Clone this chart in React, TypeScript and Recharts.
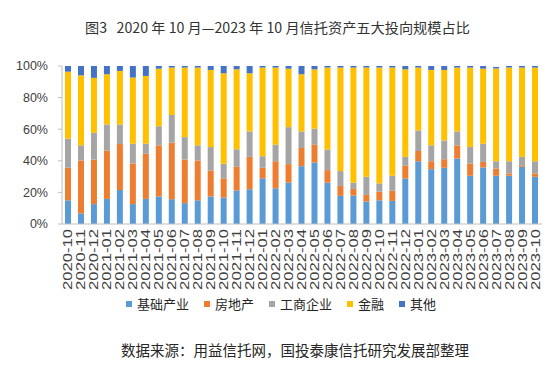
import { Bar, BarChart, XAxis, YAxis } from "recharts";

const months = [
  "2020-10", "2020-11", "2020-12", "2021-01", "2021-02", "2021-03", "2021-04", "2021-05",
  "2021-06", "2021-07", "2021-08", "2021-09", "2021-10", "2021-11", "2021-12", "2022-01",
  "2022-02", "2022-03", "2022-04", "2022-05", "2022-06", "2022-07", "2022-08", "2022-09",
  "2022-10", "2022-11", "2022-12", "2023-01", "2023-02", "2023-03", "2023-04", "2023-05",
  "2023-06", "2023-07", "2023-08", "2023-09", "2023-10",
];

// shares in %
const infra = [
  15, 6.7, 12.6, 15.9, 21.5, 12.6, 15.9, 17.4, 15.7, 13.2, 15, 17.4, 16.7, 21.3, 22, 28.9,
  22.6, 26.2, 36.6, 38.9, 26.2, 17.8, 18, 14.2, 15, 14.6, 28.7, 39.7, 34.7, 35.6, 41.4, 30.5,
  35.8, 30.5, 30.5, 36.2, 29.9,
];
const realEstate = [
  20.6, 33.5, 28.2, 30.5, 29.1, 25.7, 28.5, 32.4, 35.8, 27.6, 25.2, 16.5, 12.2, 14.9, 20.5, 6.7,
  17.1, 11.7, 11.5, 11.3, 7.9, 6.3, 4.2, 4.2, 5.5, 6.5, 8.1, 6.5, 5, 5.4, 8.4, 7.8,
  3.5, 4.6, 1.5, 1, 2.1,
];
const business = [
  18.4, 9.6, 16.9, 16.6, 12.4, 12.5, 6.4, 12.1, 17.5, 14.2, 9.6, 14.8, 9.2, 11.1, 16.1, 7.3,
  10.5, 23.4, 10.5, 10.1, 13, 9.4, 4, 11.5, 5.2, 9.4, 5.7, 13, 10.1, 11.9, 8.8, 10.4,
  11.5, 4.6, 7.7, 5.3, 7.7,
];
const finance = [
  42.4, 44.3, 34.8, 31.8, 33.9, 41.9, 42.9, 36.4, 30, 44, 49.2, 48.8, 57.3, 50.6, 36.8, 56.1,
  48.8, 37, 36.2, 37.6, 51.9, 65.5, 72.8, 69.1, 73.3, 68.5, 55.4, 39.8, 47.7, 44.6, 40.4, 50.3,
  47.5, 58.7, 59.3, 56.5, 59.3,
];
const other = [
  3.6, 5.9, 7.5, 5.2, 3.1, 7.3, 6.3, 1.7, 1, 1, 1, 2.5, 4.6, 2.1, 4.6, 1,
  1, 1.7, 5.2, 2.1, 1, 1, 1, 1, 1, 1, 2.1, 1, 2.5, 2.5, 1, 1,
  1.7, 1, 1, 1, 1,
];

const yTicks = [0, 20, 40, 60, 80, 100];

const series = [
  { key: "infra", name: "基础产业", color: "#5B9BD5" },
  { key: "realEstate", name: "房地产", color: "#ED7D31" },
  { key: "business", name: "工商企业", color: "#A5A5A5" },
  { key: "finance", name: "金融", color: "#FFC000" },
  { key: "other", name: "其他", color: "#4472C4" },
];

const data = months.map((month, i) => ({
  month,
  infra: infra[i],
  realEstate: realEstate[i],
  business: business[i],
  finance: finance[i],
  other: other[i],
}));

const boundaryTicks = months.map((_, i) => i).concat(months.length);

const FONT = '"Noto Sans CJK SC", "Noto Sans", sans-serif';
const AXIS_FONT = '"Liberation Sans", Arial, sans-serif';

function MonthTick({ x, y, payload }: any) {
  const ax = x + 4;
  const ay = y + 5;
  return (
    <text
      x={ax}
      y={ay}
      transform={`rotate(-90 ${ax} ${ay})`}
      textAnchor="end"
      fontSize={12}
      fontFamily={AXIS_FONT}
      fill="#404040"
      textLength={61}
      lengthAdjust="spacingAndGlyphs"
    >
      {payload.value}
    </text>
  );
}

export default function App() {
  return (
    <div
      style={{
        position: "absolute",
        left: 0,
        top: 0,
        width: 556,
        height: 385,
        background: "#fff",
        fontFamily: FONT,
        color: "#262626",
      }}
    >
      <div
        style={{
          position: "absolute",
          left: 85,
          top: 17,
          fontSize: 14.2,
          whiteSpace: "pre",
          lineHeight: "20px",
          color: "#333",
        }}
      >
        图3   2020 年 10 月—2023 年 10 月信托资产五大投向规模占比
      </div>

      <BarChart
        width={556}
        height={385}
        data={data}
        barSize={6}
        margin={{ top: 66, right: 14, bottom: 91, left: 0 }}
        style={{ position: "absolute", left: 0, top: 0 }}
      >
        <XAxis
          xAxisId="edges"
          type="number"
          dataKey="edge"
          domain={[0, months.length]}
          allowDataOverflow
          ticks={boundaryTicks}
          tick={() => <g />}
          tickSize={4}
          tickLine={{ stroke: "#BFBFBF" }}
          axisLine={false}
          height={0}
        />
        <XAxis
          dataKey="month"
          interval={0}
          height={70}
          tickLine={false}
          tickSize={0}
          tickMargin={0}
          axisLine={{ stroke: "#BFBFBF" }}
          tick={<MonthTick />}
        />
        <YAxis
          domain={[0, 100]}
          ticks={yTicks}
          width={62}
          tickSize={4}
          tickMargin={10}
          tickFormatter={(v: number) => `${v}%`}
          tick={{ fill: "#404040", fontSize: 12.5, fontFamily: AXIS_FONT }}
          axisLine={{ stroke: "#BFBFBF" }}
          tickLine={{ stroke: "#BFBFBF" }}
        />
        {series.map((s) => (
          <Bar
            key={s.key}
            dataKey={s.key}
            name={s.name}
            stackId="a"
            fill={s.color}
            isAnimationActive={false}
          />
        ))}
      </BarChart>

      <div
        style={{
          position: "absolute",
          left: 126,
          top: 296,
          display: "flex",
          alignItems: "center",
          gap: 15,
          fontSize: 13,
          lineHeight: "16px",
        }}
      >
        {series.map((s) => (
          <div key={s.key} style={{ display: "flex", alignItems: "center", gap: 5 }}>
            <span style={{ width: 6, height: 6, background: s.color, display: "inline-block" }} />
            <span>{s.name}</span>
          </div>
        ))}
      </div>

      <div
        style={{
          position: "absolute",
          left: 121,
          top: 340,
          fontSize: 14.5,
          lineHeight: "20px",
          whiteSpace: "nowrap",
        }}
      >
        数据来源：用益信托网，国投泰康信托研究发展部整理
      </div>
    </div>
  );
}
